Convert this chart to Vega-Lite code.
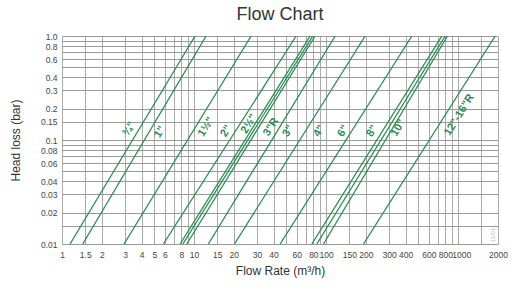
{
  "$schema": "https://vega.github.io/schema/vega-lite/v6.json",
  "width": 436,
  "height": 208,
  "autosize": {"type": "none"},
  "padding": {"left": 62, "top": 36, "right": 34, "bottom": 45},
  "background": "white",
  "config": {"view": {"stroke": null}, "font": "Liberation Sans"},
  "title": {"text": "Flow Chart", "fontSize": 18, "fontWeight": "normal", "color": "#333333", "offset": 8, "anchor": "middle", "font": "Liberation Sans"},
  "datasets": {
    "lines": [
      {"line": "L1", "size": "3/4\"", "flow": 1.15, "headloss": 0.01},
      {"line": "L1", "size": "3/4\"", "flow": 10.18, "headloss": 1},
      {"line": "L2", "size": "1\"", "flow": 1.435, "headloss": 0.01},
      {"line": "L2", "size": "1\"", "flow": 12.33, "headloss": 1},
      {"line": "L3", "size": "1 1/2\"", "flow": 2.949, "headloss": 0.01},
      {"line": "L3", "size": "1 1/2\"", "flow": 27.03, "headloss": 1},
      {"line": "L4", "size": "2\"", "flow": 5.853, "headloss": 0.01},
      {"line": "L4", "size": "2\"", "flow": 59.27, "headloss": 1},
      {"line": "L5", "size": "2 1/2\"", "flow": 7.833, "headloss": 0.01},
      {"line": "L5", "size": "2 1/2\"", "flow": 75.63, "headloss": 1},
      {"line": "L6", "size": "2 1/2\"", "flow": 8.212, "headloss": 0.01},
      {"line": "L6", "size": "2 1/2\"", "flow": 79.29, "headloss": 1},
      {"line": "L7", "size": "3\"R", "flow": 8.805, "headloss": 0.01},
      {"line": "L7", "size": "3\"R", "flow": 82.54, "headloss": 1},
      {"line": "L8", "size": "3\"", "flow": 12.83, "headloss": 0.01},
      {"line": "L8", "size": "3\"", "flow": 117.0, "headloss": 1},
      {"line": "L9", "size": "4\"", "flow": 20.2, "headloss": 0.01},
      {"line": "L9", "size": "4\"", "flow": 197.5, "headloss": 1},
      {"line": "L10", "size": "6\"", "flow": 44.82, "headloss": 0.01},
      {"line": "L10", "size": "6\"", "flow": 445.9, "headloss": 1},
      {"line": "L11", "size": "8\"", "flow": 77.9, "headloss": 0.01},
      {"line": "L11", "size": "8\"", "flow": 752.3, "headloss": 1},
      {"line": "L12", "size": "10\"", "flow": 85.0, "headloss": 0.01},
      {"line": "L12", "size": "10\"", "flow": 797, "headloss": 1},
      {"line": "L13", "size": "10\"", "flow": 95.4, "headloss": 0.01},
      {"line": "L13", "size": "10\"", "flow": 829.7, "headloss": 1},
      {"line": "L14", "size": "12\"-16\"R", "flow": 191.7, "headloss": 0.01},
      {"line": "L14", "size": "12\"-16\"R", "flow": 1906, "headloss": 1}
    ],
    "labels": [
      {"label": "¾\"", "flow": 3.218, "headloss": 0.1276},
      {"label": "1\"", "flow": 5.526, "headloss": 0.1194},
      {"label": "1½\"", "flow": 12.33, "headloss": 0.1334},
      {"label": "2\"", "flow": 17.48, "headloss": 0.1221},
      {"label": "2½\"", "flow": 26.1, "headloss": 0.1425},
      {"label": "3\"R", "flow": 38.3, "headloss": 0.1334},
      {"label": "3\"", "flow": 51.5, "headloss": 0.1221},
      {"label": "4\"", "flow": 88.5, "headloss": 0.1221},
      {"label": "6\"", "flow": 134.5, "headloss": 0.1221},
      {"label": "8\"", "flow": 223.1, "headloss": 0.1221},
      {"label": "10\"", "flow": 351.2, "headloss": 0.1304},
      {"label": "12\"-16\"R", "flow": 1017.6, "headloss": 0.1739}
    ],
    "notes": [
      {"note": "11/01", "flow": 1826, "headloss": 0.0122}
    ]
  },
  "layer": [
    {
      "data": {"name": "lines"},
      "mark": {"type": "line", "color": "#2f8c55", "strokeWidth": 1.3, "clip": true},
      "encoding": {
        "x": {
          "field": "flow", "type": "quantitative",
          "scale": {"type": "log", "domain": [1, 2000], "nice": false},
          "axis": {
            "title": "Flow Rate (m³/h)",
            "values": [1, 1.5, 2, 3, 4, 5, 6, 7, 8, 9, 10, 15, 20, 30, 40, 50, 60, 70, 80, 90, 100, 150, 200, 300, 400, 500, 600, 700, 800, 900, 1000, 1500, 2000],
            "labelExpr": "indexof([1,1.5,2,3,4,5,6,8,10,15,20,30,40,60,80,100,150,200,300,400,600,800,1000,2000], datum.value) >= 0 ? toString(datum.value) : ''",
            "ticks": false, "domain": false,
            "labelFontSize": 8.5, "labelColor": "#444444", "labelPadding": 6,
            "labelOffset": {"condition": {"test": "datum.value == 1000", "value": 3}, "value": 0},
            "labelFlush": false, "labelOverlap": false, "labelBound": false,
            "grid": true, "gridColor": "#aaaaaa", "gridOpacity": 1, "gridWidth": 1,
            "titleFontSize": 12, "titleFontWeight": "normal", "titleColor": "#333333", "titlePadding": 7
          }
        },
        "y": {
          "field": "headloss", "type": "quantitative",
          "scale": {"type": "log", "domain": [0.01, 1], "nice": false},
          "axis": {
            "title": "Head loss (bar)",
            "values": [0.01, 0.015, 0.02, 0.03, 0.04, 0.05, 0.06, 0.07, 0.08, 0.09, 0.1, 0.15, 0.2, 0.3, 0.4, 0.5, 0.6, 0.7, 0.8, 0.9, 1],
            "labelExpr": "datum.value == 1 ? '1.0' : (indexof([0.8,0.6,0.4,0.3,0.2,0.15,0.1,0.08,0.06,0.04,0.03,0.02,0.01], datum.value) >= 0 ? toString(datum.value) : '')",
            "ticks": false, "domain": false,
            "labelFontSize": 8.5, "labelColor": "#444444", "labelPadding": 5,
            "labelFlush": false, "labelOverlap": false, "labelBound": false,
            "grid": true, "gridColor": "#999999", "gridOpacity": 1, "gridWidth": 1,
            "titleFontSize": 12, "titleFontWeight": "normal", "titleColor": "#333333", "titlePadding": 18
          }
        },
        "detail": {"field": "line"}
      }
    },
    {
      "data": {"name": "labels"},
      "mark": {"type": "text", "angle": -58, "fontSize": 11, "fontWeight": "bold", "color": "#2f8c55", "align": "center", "baseline": "middle"},
      "encoding": {
        "x": {"field": "flow", "type": "quantitative"},
        "y": {"field": "headloss", "type": "quantitative"},
        "text": {"field": "label"}
      }
    },
    {
      "data": {"name": "notes"},
      "mark": {"type": "text", "angle": -90, "fontSize": 6, "color": "#bbbbbb", "align": "center", "baseline": "middle"},
      "encoding": {
        "x": {"field": "flow", "type": "quantitative"},
        "y": {"field": "headloss", "type": "quantitative"},
        "text": {"field": "note"}
      }
    }
  ]
}
